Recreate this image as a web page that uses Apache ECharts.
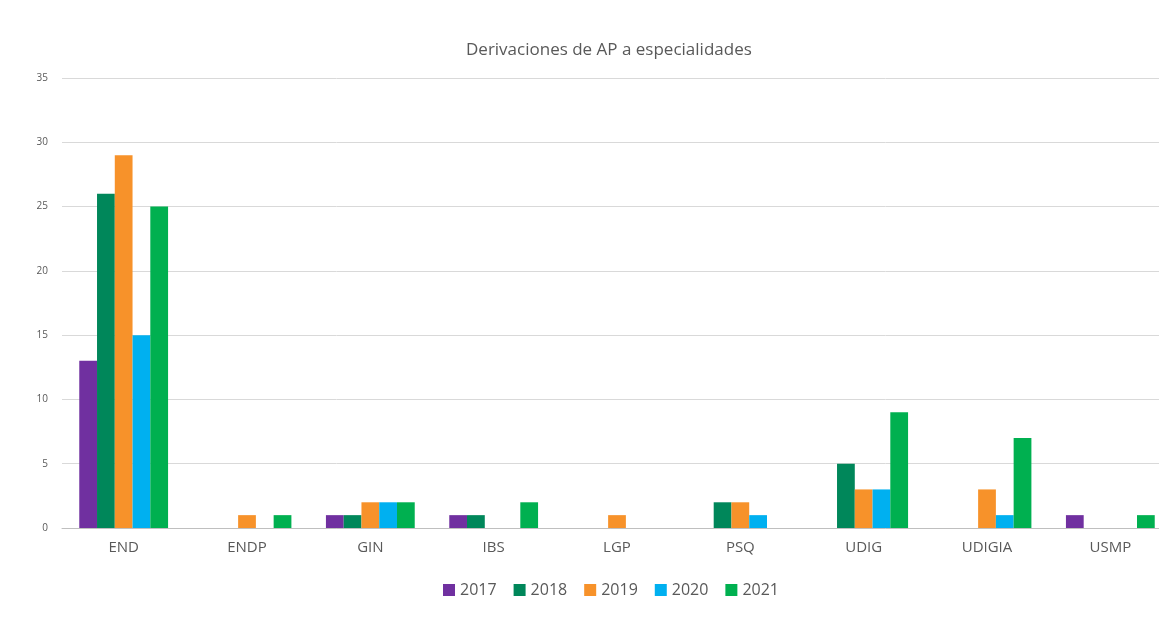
<!DOCTYPE html>
<html lang="es" style="height: 100%">
<head>
    <meta charset="UTF-8">
    <title>Derivaciones de AP a especialidades</title>
    <script src="https://cdn.jsdelivr.net/npm/echarts@6/dist/echarts.min.js"></script>
</head>
<body style="height: 100%; margin: 0; background: #fff">
<div id="container" style="width: 1159px; height: 637px"></div>
<script type="text/javascript">
    var categories = ['END', 'ENDP', 'GIN', 'IBS', 'LGP', 'PSQ', 'UDIG', 'UDIGIA', 'USMP'];
    var years = ['2017', '2018', '2019', '2020', '2021'];
    var v2017 = [13, 0, 1, 1, 0, 0, 0, 0, 1];
    var v2018 = [26, 0, 1, 1, 0, 2, 5, 0, 0];
    var v2019 = [29, 1, 2, 0, 1, 2, 3, 3, 0];
    var v2020 = [15, 0, 2, 0, 0, 1, 3, 1, 0];
    var v2021 = [25, 1, 2, 2, 0, 0, 9, 7, 1];
    var colors = ['#7030a0', '#00875a', '#f7922a', '#00b0f0', '#00b050'];

    var dom = document.getElementById('container');
    var myChart = echarts.init(dom);
    var values = [v2017, v2018, v2019, v2020, v2021];

    var series = [];
    for (var i = 0; i < years.length; i++) {
        series.push({
            name: years[i],
            type: 'bar',
            data: values[i],
            barGap: '0%',
            barCategoryGap: '28%',
            itemStyle: {color: colors[i]}
        });
    }

    var option = {
        animation: false,
        title: {
            text: 'Derivaciones de AP a especialidades',
            left: 461,
            top: 37,
            textStyle: {fontFamily: 'Open Sans', fontSize: 17, fontWeight: 'normal', color: '#595959'}
        },
        legend: {
            top: 577,
            left: 438,
            itemWidth: 12,
            itemHeight: 12,
            itemGap: 17,
            icon: 'rect',
            textStyle: {fontFamily: 'Open Sans', fontSize: 16, color: '#595959'}
        },
        // the plot runs a little past the right edge of the picture
        grid: {left: 62, width: 1110, top: 78, height: 450, containLabel: false, outerBoundsMode: 'none'},
        xAxis: {
            type: 'category',
            data: categories,
            axisTick: {show: false},
            axisLine: {lineStyle: {color: '#bfbfbf'}},
            axisLabel: {fontFamily: 'Open Sans', fontSize: 15, color: '#595959', margin: 12}
        },
        yAxis: {
            type: 'value',
            min: 0,
            max: 35,
            interval: 5,
            axisLabel: {fontFamily: 'Open Sans', fontSize: 10, color: '#595959', margin: 14},
            splitLine: {lineStyle: {color: '#d9d9d9'}}
        },
        color: colors,
        series: series
    };

    myChart.setOption(option);
</script>
</body>
</html>
